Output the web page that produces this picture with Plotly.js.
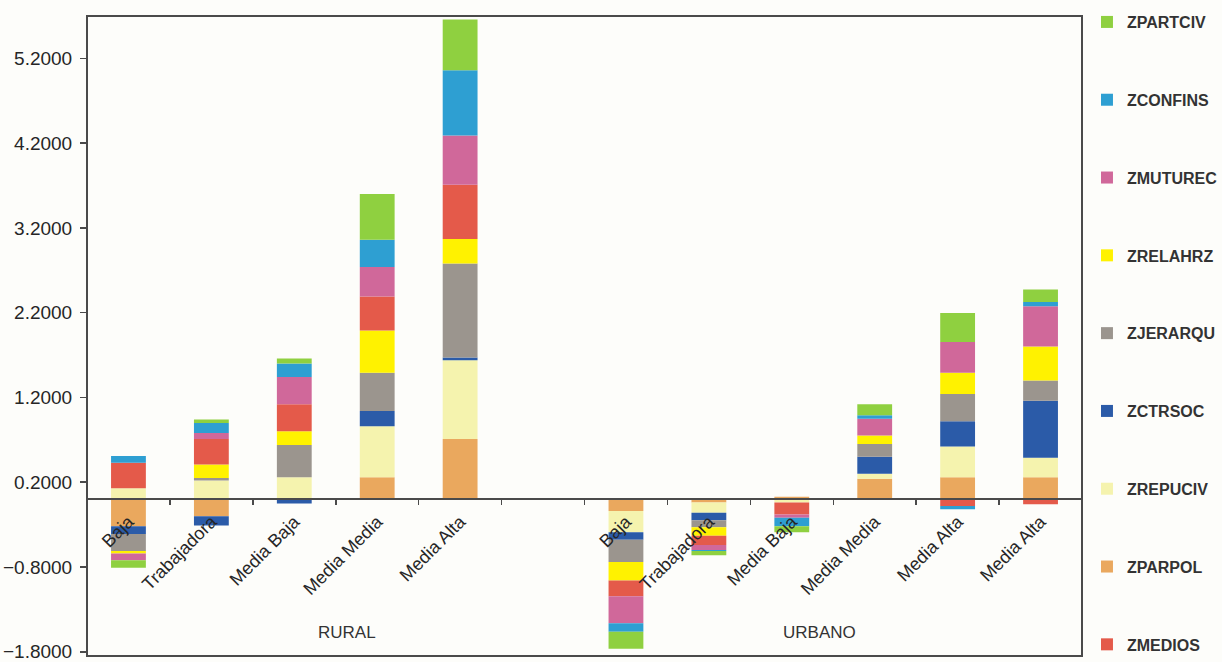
<!DOCTYPE html>
<html>
<head>
<meta charset="utf-8">
<script src="https://cdn.plot.ly/plotly-3.0.1.min.js"></script>
<style>
html,body{margin:0;padding:0;background:#fdfdfa;}
#chart{width:1222px;height:662px;}
</style>
</head>
<body>
<div id="chart"></div>
<script>
// Categories (Rural: 5 classes, Urbano: 6 classes)
const categories = ['Baja','Trabajadora','Media Baja','Media Media','Media Alta',
                    'Baja','Trabajadora','Media Baja','Media Media','Media Alta','Media Alta'];
const groupOf    = ['RURAL','RURAL','RURAL','RURAL','RURAL',
                    'URBANO','URBANO','URBANO','URBANO','URBANO','URBANO'];
const groupLabels = ['RURAL','URBANO'];

// Series values (stack order bottom -> top)
const ZPARPOL  = [-0.32, -0.20,  0.00, 0.26, 0.71,  -0.14, -0.04,  0.03, 0.24,  0.26,  0.26];
const ZREPUCIV = [ 0.13,  0.22,  0.26, 0.60, 0.93,  -0.25, -0.12, -0.04, 0.06,  0.36,  0.23];
const ZCTRSOC  = [-0.09, -0.11, -0.05, 0.18, 0.03,  -0.09, -0.09,  0.00, 0.20,  0.30,  0.67];
const ZJERARQU = [-0.20,  0.03,  0.38, 0.45, 1.11,  -0.26, -0.08,  0.00, 0.15,  0.32,  0.24];
const ZRELAHRZ = [-0.03,  0.16,  0.16, 0.50, 0.29,  -0.22, -0.10,  0.00, 0.10,  0.25,  0.40];
const ZMEDIOS  = [ 0.30,  0.30,  0.32, 0.40, 0.64,  -0.185,-0.11, -0.14, 0.00, -0.08, -0.06];
const ZMUTUREC = [-0.08,  0.07,  0.32, 0.35, 0.58,  -0.32, -0.06, -0.04, 0.20,  0.365, 0.475];
const ZCONFINS = [ 0.08,  0.12,  0.16, 0.32, 0.77,  -0.10, -0.01, -0.10, 0.04, -0.04,  0.05];
const ZPARTCIV = [-0.09,  0.04,  0.06, 0.54, 0.60,  -0.20, -0.05, -0.07, 0.13,  0.34,  0.15];

const seriesNames = ['ZPARPOL','ZREPUCIV','ZCTRSOC','ZJERARQU','ZRELAHRZ','ZMEDIOS','ZMUTUREC','ZCONFINS','ZPARTCIV'];
const seriesData  = [ZPARPOL, ZREPUCIV, ZCTRSOC, ZJERARQU, ZRELAHRZ, ZMEDIOS, ZMUTUREC, ZCONFINS, ZPARTCIV];
const seriesColors = ['#eaa85e','#f5f3ae','#2b5ba8','#9b958e','#fff200','#e45a4a','#d0689a','#2e9fd2','#8fd040'];
const legendOrder = ['ZPARTCIV','ZCONFINS','ZMUTUREC','ZRELAHRZ','ZJERARQU','ZCTRSOC','ZREPUCIV','ZPARPOL','ZMEDIOS'];

// slot index: one empty slot between the two groups
const xs = categories.map((c, i) => groupOf[i] === 'RURAL' ? i : i + 1);

const traces = seriesNames.map((n, k) => ({
  type: 'bar',
  name: n,
  x: xs,
  y: seriesData[k],
  marker: {color: seriesColors[k], line: {width: 0}},
  legendgroup: n,
  legendrank: legendOrder.indexOf(n) + 1,
  hoverinfo: 'name+y'
}));

const yMin = -1.85, yMax = 5.70;
const sans = '"Liberation Sans", Arial, sans-serif';
const ink = '#4a4a4a';

// group label positions (in slot units)
const groupX = [2.64, 8.34];

const layout = {
  width: 1222, height: 662, autosize: false,
  margin: {l: 87, r: 140, t: 16, b: 6, pad: 0},
  paper_bgcolor: '#fdfdfa',
  plot_bgcolor: '#fdfdfa',
  barmode: 'relative',
  bargap: 0.58,
  showlegend: true,
  legend: {
    xref: 'container', yref: 'container',
    x: 0.8895, xanchor: 'left', y: 0.9924, yanchor: 'top',
    maxheight: 700,
    traceorder: 'grouped',
    tracegroupgap: 54,
    font: {family: sans, size: 16, color: '#333333', weight: 'bold'},
    bgcolor: 'rgba(0,0,0,0)', borderwidth: 0
  },
  xaxis: {
    range: [-0.5, 11.5],
    tickmode: 'array', tickvals: xs, ticktext: categories,
    tickangle: -45,
    anchor: 'free', position: (0 - yMin) / (yMax - yMin),
    showline: true, linecolor: ink, linewidth: 2,
    ticks: '', showgrid: false, zeroline: false,
    ticklabelstandoff: 4,
    minor: {tickmode: 'linear', tick0: -0.5, dtick: 1, ticks: 'outside', ticklen: 5, tickwidth: 1.5, tickcolor: ink, showgrid: false},
    tickfont: {family: sans, size: 18, color: '#262626'},
    automargin: false, fixedrange: true
  },
  yaxis: {
    range: [yMin, yMax],
    tickmode: 'linear', tick0: 0.2, dtick: 1, tickformat: '.4f',
    ticks: 'outside', ticklen: 6, tickwidth: 1.5, tickcolor: ink,
    showline: false, showgrid: false, zeroline: false,
    ticklabelstandoff: 4,
    ticklabeloverflow: 'allow',
    tickfont: {family: sans, size: 19, color: '#262626'},
    automargin: false, fixedrange: true
  },
  shapes: [{
    type: 'rect', xref: 'paper', yref: 'paper', x0: 0, x1: 1, y0: 0, y1: 1,
    line: {color: ink, width: 2}, fillcolor: 'rgba(0,0,0,0)', layer: 'above'
  }],
  annotations: groupLabels.map((g, i) => ({
    text: g, xref: 'x', yref: 'paper', x: groupX[i], y: 0.036,
    xanchor: 'center', yanchor: 'middle', showarrow: false,
    font: {family: sans, size: 17, color: '#333333'}
  }))
};

Plotly.newPlot('chart', traces, layout, {displayModeBar: false, staticPlot: true});
</script>
</body>
</html>
